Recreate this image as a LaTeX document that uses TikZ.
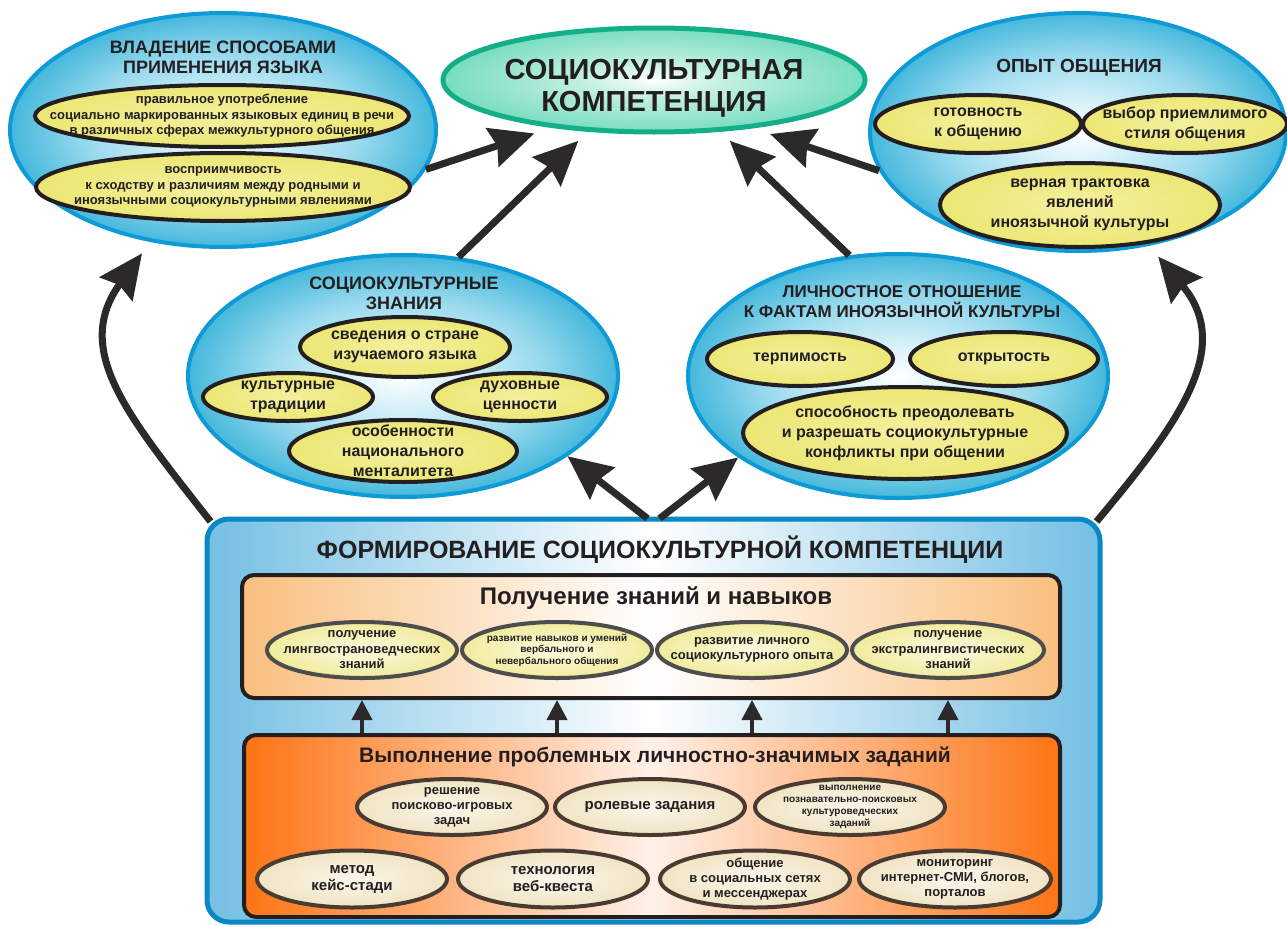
\documentclass[tikz,border=0pt]{standalone}
\usepackage{fontspec}
\setmainfont{Liberation Sans}
\usetikzlibrary{shapes.geometric,arrows.meta}
\newcommand\myfs[2]{\fontsize{#1}{#2}\selectfont}
\definecolor{ink}{HTML}{231F20}
\definecolor{arr}{HTML}{2B2A29}
\definecolor{bluebd}{HTML}{0E9AD7}
\definecolor{blueA}{HTML}{45B8DB}
\definecolor{blueB}{HTML}{9ADAEE}
\definecolor{blueC}{HTML}{DAF2F9}
\definecolor{greenbd}{HTML}{14AE89}
\definecolor{greenA}{HTML}{78DDBF}
\definecolor{greenB}{HTML}{C4F0E2}
\definecolor{yelA}{HTML}{F3F0A0}
\definecolor{yelB}{HTML}{ECE774}
\definecolor{boxbd}{HTML}{0A88C6}
\definecolor{boxfill}{HTML}{74BFE3}
\definecolor{lorange}{HTML}{F9BF7E}
\definecolor{dorange}{HTML}{FD7414}
\definecolor{dorangeM}{HTML}{FFF1E8}
\definecolor{pyelA}{HTML}{FCFAE2}
\definecolor{pyelB}{HTML}{F1EB9C}
\definecolor{pbd}{HTML}{4D4D4D}
\definecolor{creamA}{HTML}{FBF6EC}
\definecolor{creamB}{HTML}{F1E4C4}
\definecolor{cbd}{HTML}{4A3B32}
\pgfdeclareradialshading{bluerad}{\pgfpoint{0bp}{0bp}}{color(0bp)=(white); color(6bp)=(blueC); color(16bp)=(blueB); color(25bp)=(blueA); color(50bp)=(blueA)}
\pgfdeclareradialshading{greenrad}{\pgfpoint{0bp}{0bp}}{color(0bp)=(white); color(8bp)=(greenB); color(25bp)=(greenA); color(50bp)=(greenA)}
\pgfdeclareradialshading{yelrad}{\pgfpoint{0bp}{0bp}}{color(0bp)=(yelA); color(25bp)=(yelB); color(50bp)=(yelB)}
\pgfdeclareradialshading{pyelrad}{\pgfpoint{0bp}{0bp}}{color(0bp)=(pyelA); color(25bp)=(pyelB); color(50bp)=(pyelB)}
\pgfdeclareradialshading{creamrad}{\pgfpoint{0bp}{0bp}}{color(0bp)=(creamA); color(25bp)=(creamB); color(50bp)=(creamB)}
\tikzset{
  bigell/.style={ellipse, draw=bluebd, line width=4pt, shade, shading=bluerad, inner sep=-300pt},
  cenell/.style={ellipse, draw=greenbd, line width=5pt, shade, shading=greenrad, inner sep=-300pt},
  yell/.style={ellipse, draw=ink, line width=4pt, shade, shading=yelrad, inner sep=-300pt, align=center, text=ink, font=\bfseries\myfs{16}{20}},
  pell/.style={ellipse, draw=pbd, line width=4pt, shade, shading=pyelrad, inner sep=-300pt, align=center, text=ink, font=\bfseries\myfs{13}{15.5}},
  cell/.style={ellipse, draw=cbd, line width=4pt, shade, shading=creamrad, inner sep=-300pt, align=center, text=ink, font=\bfseries\myfs{13}{15}},
  head/.style={align=center, text=ink, inner sep=0pt, font=\bfseries\myfs{18}{20}},
  bigarrow/.style={draw=arr, line width=7pt, -{Stealth[length=44pt,width=40pt,inset=5pt]}},
  smallarrow/.style={draw=arr, line width=4pt, -{Triangle[length=20pt,width=20pt]}},
}
\begin{document}
\begin{tikzpicture}[x=1pt,y=1pt]
\useasboundingbox (0,0) rectangle (1287,-926);
\fill[white] (0,0) rectangle (1287,-926);

% top ellipses
\node[bigell, minimum width=426, minimum height=234] (tl) at (223,-130) {};
\node[head] (tlh) at (223,-57) {ВЛАДЕНИЕ СПОСОБАМИ\\ПРИМЕНЕНИЯ ЯЗЫКА};
\node[yell, minimum width=374, minimum height=62, font=\bfseries\myfs{13}{15.5}] (tl1) at (222,-116)
  {правильное употребление\\социально маркированных языковых единиц в речи\\в различных сферах межкультурного общения};
\node[yell, minimum width=374, minimum height=68, font=\bfseries\myfs{13}{15.5}] (tl2) at (223,-187)
  {восприимчивость\\к сходству и различиям между родными и\\иноязычными социокультурными явлениями};

\node[cenell, minimum width=422, minimum height=104] (ce) at (654,-80) {};
\node[head, font=\bfseries\myfs{29}{32}] (cet) at (654,-88) {СОЦИОКУЛЬТУРНАЯ\\КОМПЕТЕНЦИЯ};

\node[bigell, minimum width=416, minimum height=238] (tr) at (1078,-132) {};
\node[head, font=\bfseries\myfs{19}{20}] (trh) at (1079,-68) {ОПЫТ ОБЩЕНИЯ};
\node[yell, minimum width=206, minimum height=58] (tr1) at (978,-124) {готовность\\к общению};
\node[yell, minimum width=204, minimum height=58] (tr2) at (1185,-124) {выбор приемлимого\\стиля общения};
\node[yell, minimum width=280, minimum height=84] (tr3) at (1080,-205) {верная трактовка\\явлений\\иноязычной культуры};

% middle ellipses
\node[bigell, minimum width=430, minimum height=242] (sk) at (403,-376) {};
\node[head] (skh) at (404,-293) {СОЦИОКУЛЬТУРНЫЕ\\ЗНАНИЯ};
\node[yell, minimum width=210, minimum height=60] (sk1) at (405,-347) {сведения о стране\\изучаемого языка};
\node[yell, minimum width=170, minimum height=48] (sk2) at (288,-397) {культурные\\традиции};
\node[yell, minimum width=174, minimum height=48] (sk3) at (520,-397) {духовные\\ценности};
\node[yell, minimum width=228, minimum height=62] (sk4) at (403,-451) {особенности\\национального\\менталитета};

\node[bigell, minimum width=420, minimum height=244] (lk) at (898,-376) {};
\node[head, font=\bfseries\myfs{17}{20}] (lkh) at (902,-302) {ЛИЧНОСТНОЕ ОТНОШЕНИЕ\\К ФАКТАМ ИНОЯЗЫЧНОЙ КУЛЬТУРЫ};
\node[yell, minimum width=186, minimum height=54] (lk1) at (800,-359) {терпимость};
\node[yell, minimum width=188, minimum height=54] (lk2) at (1004,-359) {открытость};
\node[yell, minimum width=324, minimum height=92] (lk3) at (905,-433) {способность преодолевать\\и разрешать социокультурные\\конфликты при общении};

% bottom block
\node[draw=boxbd, line width=5pt, rounded corners=22pt, left color=boxfill, right color=boxfill, middle color=white,
      minimum width=893, minimum height=403, inner sep=0pt] (form) at (653.5,-720.5) {};
\node[head, font=\bfseries\myfs{25}{28}] (formh) at (660,-550) {ФОРМИРОВАНИЕ СОЦИОКУЛЬТУРНОЙ КОМПЕТЕНЦИИ};

\node[draw=ink, line width=4pt, rounded corners=12pt, left color=lorange, right color=lorange, middle color=white,
      minimum width=818, minimum height=123, inner sep=0pt] (lb) at (651,-636.5) {};
\node[head, font=\bfseries\myfs{24}{28}] (lbh) at (656,-598) {Получение знаний и навыков};
\node[pell, minimum width=190, minimum height=56] (lb1) at (362,-650) {получение\\лингвострановедческих\\знаний};
\node[pell, minimum width=190, minimum height=56, font=\bfseries\myfs{10}{11.5}] (lb2) at (557,-650) {развитие навыков и умений\\вербального и\\невербального общения};
\node[pell, minimum width=190, minimum height=56] (lb3) at (752,-650) {развитие личного\\социокультурного опыта};
\node[pell, minimum width=192, minimum height=56] (lb4) at (948,-650) {получение\\экстралингвистических\\знаний};

\node[draw=ink, line width=4pt, rounded corners=12pt, left color=dorange, right color=dorange, middle color=dorangeM,
      minimum width=816, minimum height=182, inner sep=0pt] (db) at (652,-826) {};
\node[head, font=\bfseries\myfs{21}{24}] (dbh) at (655,-757) {Выполнение проблемных личностно-значимых заданий};
\node[cell, minimum width=190, minimum height=56] (r1a) at (452,-807) {решение\\поисково-игровых\\задач};
\node[cell, minimum width=190, minimum height=56, font=\bfseries\myfs{15}{17}] (r1b) at (650,-807) {ролевые задания};
\node[cell, minimum width=190, minimum height=56, font=\bfseries\myfs{10}{12}] (r1c) at (850,-807) {выполнение\\познавательно-поисковых\\культуроведческих\\заданий};
\node[cell, minimum width=190, minimum height=57, font=\bfseries\myfs{15}{17}] (r2a) at (352,-879) {метод\\кейс-стади};
\node[cell, minimum width=190, minimum height=57, font=\bfseries\myfs{15}{17}] (r2b) at (553,-879) {технология\\веб-квеста};
\node[cell, minimum width=190, minimum height=57] (r2c) at (755,-879) {общение\\в социальных сетях\\и мессенджерах};
\node[cell, minimum width=192, minimum height=57] (r2d) at (955,-879) {мониторинг\\интернет-СМИ, блогов,\\порталов};

% small arrows between boxes
\foreach \n in {lb1,lb2,lb3,lb4}
  \draw[smallarrow] (\n |- db.north) -- (\n |- lb.south);

% big arrows
\draw[bigarrow, shorten >=18pt] (tl.-11) -- (ce.205);
\draw[bigarrow, shorten >=13pt] (sk.65) -- (ce.218);
\draw[bigarrow, shorten >=13pt] (lk.112) -- (ce.322);
\draw[bigarrow, shorten >=18pt] (tr.191) -- (ce.334);
\draw[bigarrow] ([xshift=-6pt,yshift=-2pt]form.north) -- (sk.-26);
\draw[bigarrow] ([xshift=6pt,yshift=-2pt]form.north) -- (lk.207);
\draw[bigarrow, shorten >=14pt] ([shift={(6pt,-5pt)}]form.north west) to[out=128,in=-126,looseness=1.2] (tl.237);
\draw[bigarrow, shorten >=14pt] ([shift={(-6pt,-5pt)}]form.north east) to[out=50,in=-50,looseness=1.2] (tr.302);
\end{tikzpicture}
\end{document}
